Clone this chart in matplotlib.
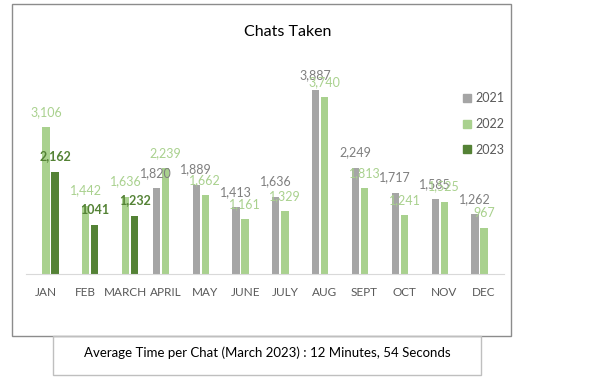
import numpy as np
import matplotlib.pyplot as plt
from matplotlib.patches import Rectangle, Patch

plt.rcParams['font.family'] = ['Lato', 'DejaVu Sans']

months = ['JAN', 'FEB', 'MARCH', 'APRIL', 'MAY', 'JUNE', 'JULY', 'AUG',
          'SEPT', 'OCT', 'NOV', 'DEC']
years = ['2021', '2022', '2023']
chats_2021 = [np.nan, np.nan, np.nan, 1820, 1889, 1413, 1636, 3887, 2249, 1717, 1585, 1262]
chats_2022 = [3106, 1442, 1636, 2239, 1662, 1161, 1329, 3740, 1813, 1241, 1525, 967]
chats_2023 = [2162, 1041, 1232] + [np.nan] * 9
labels_2023 = ['2,162', '1041', '1,232']

colors = ['#a5a5a5', '#a9d18e', '#548235']
label_colors = ['#7f7f7f', '#a9d18e', '#548235']

fig = plt.figure(figsize=(6.15, 3.83), dpi=100)
ax = fig.add_axes([26 / 615, 1 - 274 / 383, 478 / 615, 214 / 383])

x = np.arange(len(months))
w = 0.18
off = 0.23
series = [chats_2021, chats_2022, chats_2023]
for i, vals in enumerate(series):
    pos = x + (i - 1) * off
    ax.bar(pos, vals, width=w, color=colors[i], zorder=2)
    for j, v in enumerate(vals):
        if np.isnan(v):
            continue
        if i == 2:
            txt = labels_2023[j]
        else:
            txt = f'{int(v):,}'
        ax.annotate(txt, (pos[j], v), xytext=(0, 11), textcoords='offset points',
                    ha='center', va='center', fontsize=9, color=label_colors[i],
                    fontweight='bold' if i == 2 else 'normal')

ax.set_xlim(-0.5, 11.5)
ax.set_ylim(0, 4526)
ax.set_xticks(x)
ax.set_xticklabels(months, color='#595959', fontsize=8.5)
ax.tick_params(axis='x', length=0, pad=9)
ax.set_yticks([])
for s in ['top', 'right', 'left']:
    ax.spines[s].set_visible(False)
ax.spines['bottom'].set_color('#d9d9d9')
ax.patch.set_alpha(0)

fig.text(0.467, 0.916, 'Chats Taken', ha='center', va='center', fontsize=11.5, color='#000000')

handles = [Patch(color=c) for c in colors]
leg = fig.legend(handles, years, loc='upper left', bbox_to_anchor=(452 / 615, 1 - 81 / 383),
                 frameon=False, fontsize=9, labelspacing=1.1, handlelength=0.6,
                 handleheight=0.6, handletextpad=0.4, labelcolor='#595959')

# outer frame and bottom note box
fig.patches.append(Rectangle((12 / 615, 1 - 336 / 383), 499 / 615, 332 / 383,
                             transform=fig.transFigure, fill=False, edgecolor='#8c8c8c', lw=1))
fig.patches.append(Rectangle((53 / 615, 1 - 375 / 383), 428 / 615, 39 / 383,
                             transform=fig.transFigure, fill=False, edgecolor='#bfbfbf', lw=1))
fig.text(267 / 615, 1 - 353 / 383, 'Average Time per Chat (March 2023) : 12 Minutes, 54 Seconds',
         ha='center', va='center', fontsize=9.5, color='#000000')

fig.savefig('out.png', dpi=100)
